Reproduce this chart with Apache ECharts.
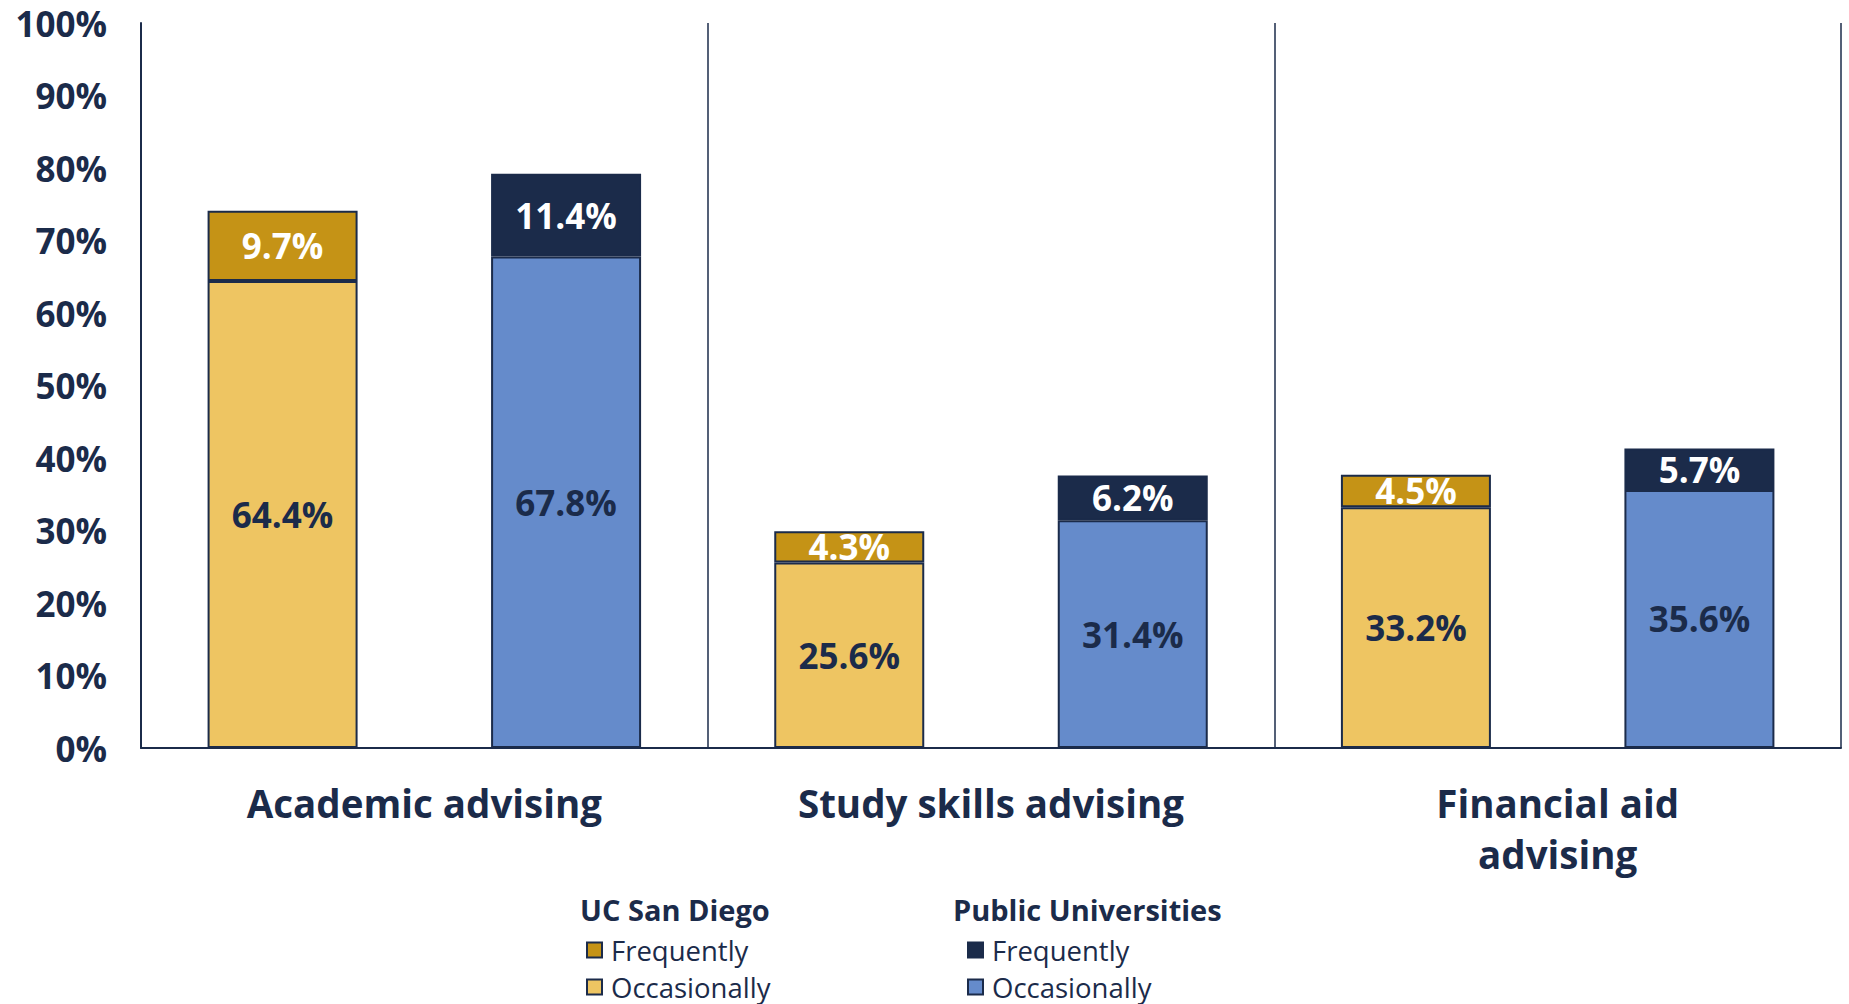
<!DOCTYPE html>
<html>
  <head>
    <meta charset="utf-8" />
    <title>Advising</title>
    <style>
      html,
      body {
        height: 100%;
        margin: 0;
        padding: 0;
        background: #ffffff;
      }
      #chart-container {
        width: 1849px;
        height: 1004px;
      }
    </style>
    <script src="https://cdn.jsdelivr.net/npm/echarts@6/dist/echarts.min.js"></script>
  </head>
  <body>
    <div id="chart-container"></div>

    <script>
      // 数据
      var categories = ["Academic advising", "Study skills advising", "Financial aid\nadvising"];
      var ucsdOccasionally = [64.4, 25.6, 33.2];
      var ucsdFrequently = [9.7, 4.3, 4.5];
      var publicOccasionally = [67.8, 31.4, 35.6];
      var publicFrequently = [11.4, 6.2, 5.7];
      var yTicks = [0, 10, 20, 30, 40, 50, 60, 70, 80, 90, 100];

      var navy = "#1b2b4a";
      var font = "Open Sans";

      var myChart = echarts.init(document.getElementById("chart-container"), "", {
        renderer: "svg",
      });

      function barSeries(name, stack, data, color, labelColor) {
        return {
          name: name,
          type: "bar",
          stack: stack,
          data: data,
          barWidth: 150,
          barGap: "89%",
          itemStyle: {
            color: color,
            borderColor: navy,
            borderWidth: 2,
          },
          label: {
            show: true,
            position: "inside",
            formatter: "{c}%",
            color: labelColor,
            fontFamily: font,
            fontWeight: "bold",
            fontSize: 35,
          },
        };
      }

      // 图例文字去掉前缀
      function legendText(name) {
        return name.split(" - ")[1];
      }

      var titleStyle = { color: navy, fontFamily: font, fontWeight: "bold", fontSize: 29 };
      var legendStyle = {
        color: navy,
        fontFamily: font,
        fontSize: 27.5,
        lineHeight: 30,
        padding: [0, 0, 0, 4],
      };

      var option = {
        animation: false,
        grid: {
          left: 141,
          right: 8,
          top: 23,
          bottom: 256,
        },
        title: [
          { text: "UC San Diego", left: 580, top: 895, padding: 0, textStyle: titleStyle },
          { text: "Public Universities", left: 953, top: 895, padding: 0, textStyle: titleStyle },
        ],
        legend: [
          {
            orient: "vertical",
            left: 586,
            top: 935,
            padding: 0,
            icon: "rect",
            itemWidth: 15,
            itemHeight: 15,
            itemGap: 7,
            data: ["UC San Diego - Frequently", "UC San Diego - Occasionally"],
            formatter: legendText,
            textStyle: legendStyle,
          },
          {
            orient: "vertical",
            left: 967,
            top: 935,
            padding: 0,
            icon: "rect",
            itemWidth: 15,
            itemHeight: 15,
            itemGap: 7,
            data: ["Public Universities - Frequently", "Public Universities - Occasionally"],
            formatter: legendText,
            textStyle: legendStyle,
          },
        ],
        xAxis: {
          type: "category",
          data: categories,
          axisLine: { lineStyle: { color: navy, width: 2 } },
          axisTick: { show: false },
          splitLine: { show: true, lineStyle: { color: navy, width: 1.5 } },
          axisLabel: {
            color: navy,
            fontFamily: font,
            fontWeight: "bold",
            fontSize: 38.5,
            lineHeight: 51,
            margin: 29,
            interval: 0,
          },
        },
        yAxis: {
          type: "value",
          min: yTicks[0],
          max: yTicks[yTicks.length - 1],
          interval: 10,
          axisLine: { show: true, lineStyle: { color: navy, width: 2 } },
          axisTick: { show: false },
          splitLine: { show: false },
          axisLabel: {
            formatter: "{value}%",
            color: navy,
            fontFamily: font,
            fontWeight: "bold",
            fontSize: 35,
            margin: 34,
          },
        },
        series: [
          barSeries("UC San Diego - Occasionally", "ucsd", ucsdOccasionally, "#eec562", navy),
          barSeries("UC San Diego - Frequently", "ucsd", ucsdFrequently, "#c59316", "#ffffff"),
          barSeries("Public Universities - Occasionally", "public", publicOccasionally, "#658bcb", navy),
          barSeries("Public Universities - Frequently", "public", publicFrequently, navy, "#ffffff"),
        ],
      };

      myChart.setOption(option);
    </script>
  </body>
</html>
